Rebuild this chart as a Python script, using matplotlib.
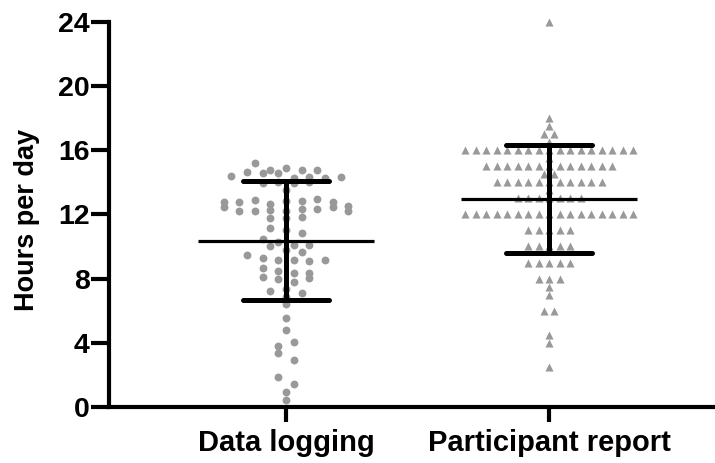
import numpy as np
import matplotlib
matplotlib.use('Agg')
import matplotlib.pyplot as plt

plt.rcParams['font.family'] = ['Liberation Sans', 'DejaVu Sans']
plt.rcParams['font.weight'] = 'bold'

## categories
groups = ['Data logging', 'Participant report']

## data logging hours (one value per dot)
logging_hours = [15.17, 14.76, 14.86, 14.76, 14.76, 14.39, 14.61, 14.55, 14.55,
                 14.24, 14.35, 14.24, 14.30, 13.93, 14.04, 13.93, 14.04, 13.52,
                 12.45, 12.76, 12.18, 12.76, 12.18, 12.91, 12.29, 11.77, 12.66,
                 12.18, 12.86, 12.35, 11.77, 12.86, 12.35, 11.83, 12.97, 12.45,
                 12.80, 12.18, 12.55, 11.15, 11.05, 10.84, 10.47, 10.28, 10.12,
                 10.02, 10.12, 9.77, 9.65, 9.44, 9.26, 9.13, 9.13, 9.09, 9.13,
                 8.66, 8.47, 8.33, 8.33, 8.12, 7.96, 7.79, 8.06, 7.24, 7.34,
                 7.13, 6.86, 6.41, 5.55, 4.82, 3.83, 4.04, 3.36, 2.95, 1.84,
                 1.42, 0.95, 0.43]

## participant report hours: reported value and how many gave it
report_values = [24, 18, 17.5, 17, 16.5, 16, 15.5, 15, 14.5, 14, 13.5, 13,
                 12, 11, 10, 9, 8, 7.5, 7, 6, 4.5, 4, 2.5]
report_counts = [1, 1, 1, 2, 1, 17, 1, 13, 2, 11, 1, 7,
                 17, 5, 5, 5, 3, 1, 1, 2, 1, 1, 1]
report_hours = np.repeat(report_values, report_counts)

yticks = [0, 4, 8, 12, 16, 20, 24]

dot_color = '#999999'


def row_offsets(yvals, step, h=0.45):
    ## walk down from the top; values within h of a row's first value
    ## share that row, and each row is laid out centred
    yvals = np.asarray(yvals, dtype=float)
    order = sorted(range(len(yvals)), key=lambda i: -yvals[i])
    rows = []
    for i in order:
        if rows and yvals[rows[-1][0]] - yvals[i] <= h:
            rows[-1].append(i)
        else:
            rows.append([i])
    offs = np.zeros(len(yvals))
    for r in rows:
        r = sorted(r)  # keep data order inside a row
        n = len(r)
        for j, i in enumerate(r):
            offs[i] = (j - (n - 1) / 2.0) * step
    return offs


fig = plt.figure(figsize=(7.15, 4.63), dpi=100)
ax = fig.add_axes([0.1524, 0.121, 0.8476, 0.832])
ax.set_xlim(0.327, 2.631)
ax.set_ylim(0, 24)

## pixels per x unit, to turn pixel spacing into data offsets
p0 = ax.transData.transform((1, 0))
p1 = ax.transData.transform((2, 24))
px_x = p1[0] - p0[0]

## data logging: circles
yl = np.array(logging_hours)
xl = 1 + row_offsets(yl, 15.6) / px_x
ax.scatter(xl, yl, s=32, marker='o', color=dot_color, linewidths=0,
           zorder=2, clip_on=False)

## participant report: triangles
yr = np.array(report_hours, dtype=float)
xr = 2 + row_offsets(yr, 10.5) / px_x
ax.scatter(xr, yr, s=34, marker='^', color=dot_color, linewidths=0,
           zorder=2, clip_on=False)

## mean and SD bars
for pos, vals in zip([1, 2], [yl, yr]):
    m = np.mean(vals)
    sd = np.std(vals, ddof=1)
    ax.plot([pos, pos], [m - sd, m + sd], color='black', lw=3.6,
            solid_capstyle='butt', zorder=3)
    ax.plot([pos - 0.162, pos + 0.162], [m + sd, m + sd], color='black',
            lw=3.6, solid_capstyle='round', zorder=3)
    ax.plot([pos - 0.162, pos + 0.162], [m - sd, m - sd], color='black',
            lw=3.6, solid_capstyle='round', zorder=3)
    ax.plot([pos - 0.333, pos + 0.333], [m, m], color='black', lw=2.3,
            solid_capstyle='butt', zorder=3)

## axes styling
for s in ['top', 'right']:
    ax.spines[s].set_visible(False)
for s in ['left', 'bottom']:
    ax.spines[s].set_linewidth(3)
ax.set_yticks(yticks)
ax.set_xticks([1, 2])
ax.set_xticklabels(groups)
ax.tick_params(axis='y', length=13, width=3, pad=1, labelsize=20.5)
ax.tick_params(axis='x', length=11, width=3, pad=5, labelsize=21)
for lab in ax.get_xticklabels() + ax.get_yticklabels():
    lab.set_fontweight('bold')

fig.text(27 / 715.0, 1 - 220 / 463.0, 'Hours per day', rotation=90,
         ha='center', va='center', fontsize=19.5, fontweight='bold')

plt.savefig('out.png', dpi=100)
